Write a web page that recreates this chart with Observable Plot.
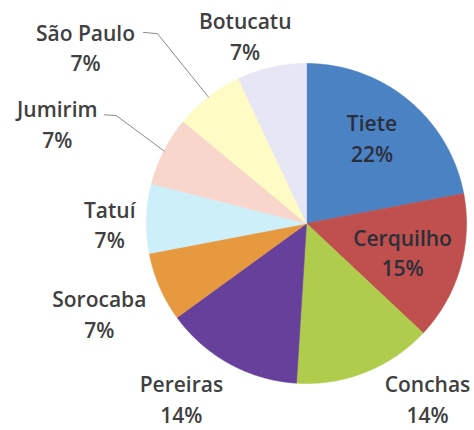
<!DOCTYPE html>
<html>
<head>
<meta charset="utf-8">
<script src="https://cdn.jsdelivr.net/npm/d3@7"></script>
<script src="https://cdn.jsdelivr.net/npm/@observablehq/plot@0.6"></script>
<style>
  html, body { margin: 0; padding: 0; background: #fff; }
  #chart svg { display: block; }
</style>
</head>
<body>
<div id="chart"></div>
<script>
// ---- data ----
const names  = ["Tiete", "Cerquilho", "Conchas", "Pereiras", "Sorocaba", "Tatuí", "Jumirim", "São Paulo", "Botucatu"];
const shares = [22, 15, 14, 14, 7, 7, 7, 7, 7];
const labels = ["22%", "15%", "14%", "14%", "7%", "7%", "7%", "7%", "7%"];

// ---- styles / layout ----
const colors = ["#4a82c4", "#c0504d", "#b0cc4c", "#67409c", "#e6993f", "#cdeffa", "#f9d6cc", "#fefcc4", "#e7e6f5"];
const R = 160; // pixels per unit radius
const cx = 306, cy = 223; // pie centre in pixels
const W = 474, H = 430;
// label placement: angle (deg clockwise from 12 o'clock, null = slice middle), radius in pie radii
const labelLayout = {
  "Tiete":     {angle: 37,    r: 0.68},
  "Cerquilho": {angle: null,  r: 0.625},
  "Conchas":   {angle: 145.2, r: 1.325},
  "Pereiras":  {angle: 215.7, r: 1.34},
  "Sorocaba":  {angle: 246.7, r: 1.41},
  "Tatuí":     {angle: 270,   r: 1.23},
  "Jumirim":   {angle: 292,   r: 1.68},
  "São Paulo": {angle: 308.7, r: 1.77},
  "Botucatu":  {angle: 342,   r: 1.24}
};
// leader lines: offsets (in radii) from label centre for start and elbow
const leaderLayout = {
  "Jumirim":   {start: [0.294, 0.05],  elbow: [0.369, 0.045]},
  "São Paulo": {start: [0.3625, 0.0875], elbow: [0.45, 0.08]}
};
const insideNames = new Set(["Tiete", "Cerquilho"]);

// ---- geometry from data ----
const total = d3.sum(shares);
const rad = (deg) => deg * Math.PI / 180;
const polar = (deg, r) => ({x: r * Math.sin(rad(deg)), y: r * Math.cos(rad(deg))});

let cum = 0;
const slices = names.map((name, i) => {
  const a0 = cum / total * 360;
  cum += shares[i];
  const a1 = cum / total * 360;
  return {name, a0, a1, mid: (a0 + a1) / 2, label: labels[i]};
});

const slicePts = [];
for (const s of slices) {
  slicePts.push({name: s.name, x: 0, y: 0});
  for (let a = s.a0; a < s.a1; a += 0.5) slicePts.push({name: s.name, ...polar(a, 1)});
  slicePts.push({name: s.name, ...polar(s.a1, 1)});
  slicePts.push({name: s.name, x: 0, y: 0});
}

const labelPts = slices.map((s) => {
  const L = labelLayout[s.name];
  const p = polar(L.angle == null ? s.mid : L.angle, L.r);
  return {name: s.name, text: s.name + "\n" + s.label, x: p.x, y: p.y, inside: insideNames.has(s.name)};
});

const leaderPts = [];
for (const s of slices) {
  const ll = leaderLayout[s.name];
  if (!ll) continue;
  const lp = labelPts.find((d) => d.name === s.name);
  leaderPts.push({name: s.name, x: lp.x + ll.start[0], y: lp.y + ll.start[1]});
  leaderPts.push({name: s.name, x: lp.x + ll.elbow[0], y: lp.y + ll.elbow[1]});
  leaderPts.push({name: s.name, ...polar(s.mid, 1)});
}

const textStyle = {fontFamily: "Open Sans", fontSize: 21, fontWeight: 600, lineHeight: 1.45, textAnchor: "middle", lineAnchor: "middle"};

const chart = Plot.plot({
  width: W,
  height: H,
  margin: 0,
  x: {domain: [-cx / R, (W - cx) / R], axis: null},
  y: {domain: [-(H - cy) / R, cy / R], axis: null},
  color: {domain: names, range: colors},
  style: {background: "#fff"},
  marks: [
    Plot.line(slicePts, {x: "x", y: "y", z: "name", fill: "name", stroke: "name", strokeWidth: 0.6, curve: "linear"}),
    Plot.line(leaderPts, {x: "x", y: "y", z: "name", stroke: "#8a8a8a", strokeWidth: 1}),
    Plot.text(labelPts.filter((d) => !d.inside), {x: "x", y: "y", text: "text", fill: "#404040", ...textStyle}),
    Plot.text(labelPts.filter((d) => d.inside), {x: "x", y: "y", text: "text", fill: "#2a2f3a", ...textStyle})
  ]
});
document.getElementById("chart").appendChild(chart);
</script>
</body>
</html>
